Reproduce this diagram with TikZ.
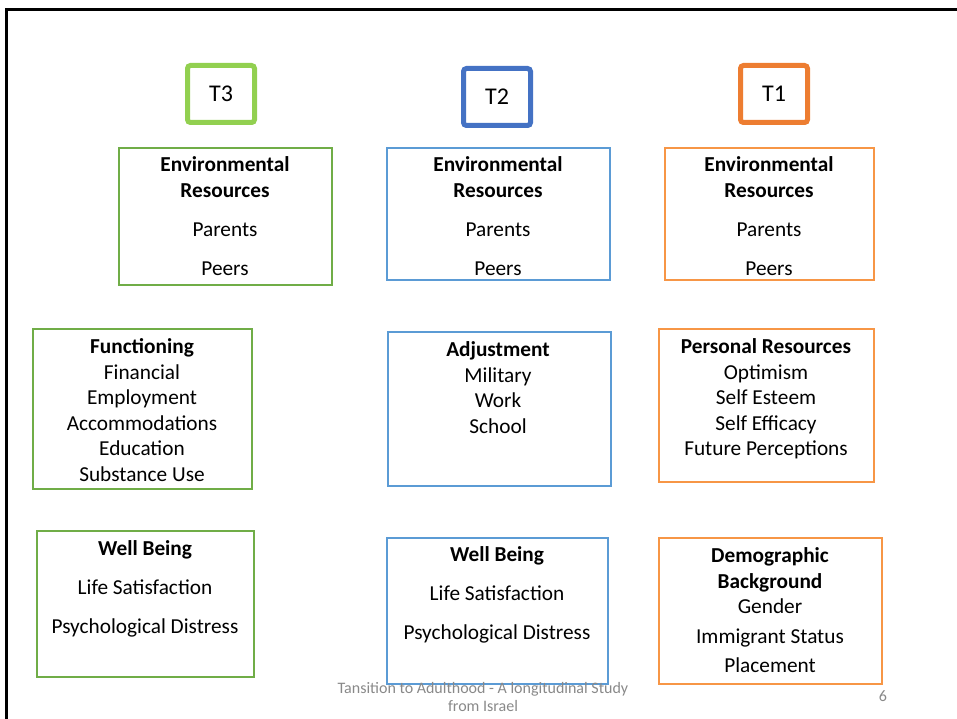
\documentclass[tikz,border=0pt]{standalone}
\usepackage{fontspec}
\setmainfont{Carlito}
\usetikzlibrary{positioning}
\usetikzlibrary{shadows}

\definecolor{wavegreen}{RGB}{146,208,80}
\definecolor{waveblue}{RGB}{68,114,196}
\definecolor{waveorange}{RGB}{237,125,49}
\definecolor{boxgreen}{RGB}{112,173,71}
\definecolor{boxblue}{RGB}{91,155,213}
\definecolor{boxorange}{RGB}{247,150,70}
\definecolor{footgray}{RGB}{137,137,137}

\tikzset{
	wave/.style={draw, fill=white, line width=5pt, rounded corners=3pt, minimum width=67pt, minimum height=57pt,
		font=\fontsize{24}{28}\selectfont, drop shadow={opacity=0.3, shadow xshift=1.5pt, shadow yshift=-2pt}},
	group/.style={draw, line width=1.8pt, inner sep=0pt},
	items/.style={align=center, inner sep=0pt, anchor=north, font=\fontsize{21.3}{25.5}\selectfont},
}

\begin{document}
\begin{tikzpicture}[x=1pt, y=-1pt]
	\useasboundingbox (0,0) rectangle (957,719);
	% slide frame
	\draw[line width=3.5pt] (6.5,719) -- (6.5,9.5) -- (957,9.5);

	% waves
	\node[wave, draw=wavegreen] at (221,94) (t3) {T3};
	\node[wave, draw=waveblue] at (497,97) (t2) {T2};
	\node[wave, draw=waveorange] at (774,94) (t1) {T1};

	% T3 column
	\node[group, draw=boxgreen, minimum width=213pt, minimum height=137pt] at (225.5,216.5) (env3) {};
	\node[items] at (225,156.5) (env3txt) {\textbf{Environmental}\\\textbf{Resources}\\[13.5pt]Parents\\[13.5pt]Peers};
	\node[group, draw=boxgreen, minimum width=219pt, minimum height=160pt] at (142.5,409) (func3) {};
	\node[items] at (142,338.5) (func3txt) {\textbf{Functioning}\\Financial\\Employment\\Accommodations\\Education\\Substance Use};
	\node[group, draw=boxgreen, minimum width=217pt, minimum height=146pt] at (145.5,604) (well3) {};
	\node[items] at (145,540.5) (well3txt) {\textbf{Well Being}\\[13.5pt]Life Satisfaction\\[13.5pt]Psychological Distress};

	% T2 column
	\node[group, draw=boxblue, minimum width=223pt, minimum height=132pt] at (498.5,214) (env2) {};
	\node[items] at (498,156.5) (env2txt) {\textbf{Environmental}\\\textbf{Resources}\\[13.5pt]Parents\\[13.5pt]Peers};
	\node[group, draw=boxblue, minimum width=223pt, minimum height=154pt] at (499.5,409) (adj2) {};
	\node[items] at (498,341.5) (adj2txt) {\textbf{Adjustment}\\Military\\Work\\School};
	\node[group, draw=boxblue, minimum width=221pt, minimum height=146pt] at (497.5,611) (well2) {};
	\node[items] at (497,546.5) (well2txt) {\textbf{Well Being}\\[13.5pt]Life Satisfaction\\[13.5pt]Psychological Distress};

	% T1 column
	\node[group, draw=boxorange, minimum width=209pt, minimum height=132pt] at (769.5,214) (env1) {};
	\node[items] at (769,156.5) (env1txt) {\textbf{Environmental}\\\textbf{Resources}\\[13.5pt]Parents\\[13.5pt]Peers};
	\node[group, draw=boxorange, minimum width=215pt, minimum height=153pt] at (766.5,405.5) (pers1) {};
	\node[items] at (766,338.5) (pers1txt) {\textbf{Personal Resources}\\Optimism\\Self Esteem\\Self Efficacy\\Future Perceptions};
	\node[group, draw=boxorange, minimum width=223pt, minimum height=146pt] at (770.5,611) (demo1) {};
	\node[items] at (770,547.5) (demo1txt) {\textbf{Demographic}\\\textbf{Background}\\Gender\\[4pt]Immigrant Status\\[4pt]Placement};

	% footer
	\node[align=center, text=footgray, font=\fontsize{16}{18}\selectfont] at (483,697) (foot) {Tansition to Adulthood - A longitudinal Study\\from Israel};
	\node[text=footgray, font=\fontsize{16}{18}\selectfont] at (883,696) (page) {6};
\end{tikzpicture}
\end{document}
